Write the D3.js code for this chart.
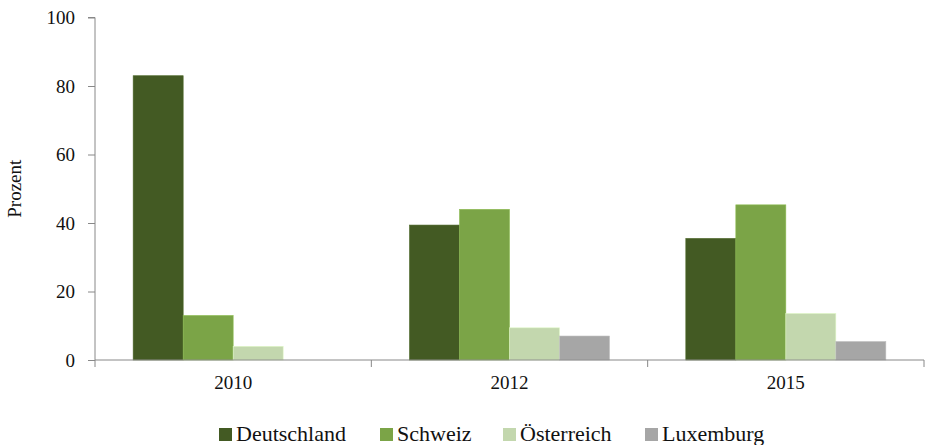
<!DOCTYPE html>
<html>
<head>
<meta charset="utf-8">
<script src="https://cdn.jsdelivr.net/npm/d3@7"></script>
<style>
  body { margin: 0; background: #fff; }
  text { font-family: "Liberation Serif", "DejaVu Serif", serif; fill: #111; }
</style>
</head>
<body>
<svg id="chart" width="925" height="445"></svg>
<script>
var years = ["2010", "2012", "2015"];
var countries = ["Deutschland", "Schweiz", "Österreich", "Luxemburg"];
var colors = ["#435a23", "#7ba447", "#c3d7ae", "#a6a6a6"];
// one array per country, values for 2010, 2012, 2015 (null = no bar)
var deutschland = [83, 39.4, 35.5];
var schweiz = [13, 44, 45.3];
var oesterreich = [4, 9.4, 13.6];
var luxemburg = [null, 7, 5.4];
var yTicks = [0, 20, 40, 60, 80, 100];

var series = [deutschland, schweiz, oesterreich, luxemburg];

var svg = d3.select("#chart");
var plotLeft = 95, plotRight = 924, plotTop = 17.5, plotBottom = 360;

var x0 = d3.scaleBand().domain(years).range([plotLeft, plotRight]).padding(0);
var x1 = d3.scaleBand().domain(countries).range([0, x0.bandwidth()])
  .paddingInner(0).paddingOuter(0.763);
var y = d3.scaleLinear().domain([0, 100]).range([plotBottom, plotTop]);

// bars
years.forEach(function(yr, i) {
  var g = svg.append("g").attr("transform", "translate(" + x0(yr) + ",0)");
  countries.forEach(function(c, j) {
    var v = series[j][i];
    if (v == null) return;
    g.append("rect")
      .attr("x", x1(c))
      .attr("y", y(v))
      .attr("width", x1.bandwidth())
      .attr("height", y(0) - y(v))
      .attr("fill", colors[j])
      .attr("stroke", d3.color(colors[j]).brighter(0.4))
      .attr("stroke-width", 0.6);
  });
});

// y axis
var yAxis = svg.append("g")
  .attr("transform", "translate(" + plotLeft + ",0)")
  .call(d3.axisLeft(y).tickValues(yTicks).tickSize(7).tickPadding(13));
yAxis.select(".domain").attr("stroke", "#888").attr("d", "M-7," + y(100) + "H0V" + y(0));
yAxis.selectAll(".tick line").attr("stroke", "#888");
yAxis.selectAll(".tick text").style("font-size", "19px").attr("fill", "#111");

// x axis
var xAxis = svg.append("g")
  .attr("transform", "translate(0," + plotBottom + ")")
  .call(d3.axisBottom(x0).tickSize(0).tickPadding(16));
xAxis.select(".domain").attr("stroke", "#888").attr("d", "M" + plotLeft + ",0H" + plotRight);
xAxis.selectAll(".tick text").style("font-size", "19px").attr("fill", "#111");
var edges = [plotLeft].concat(years.map(function(yr) { return x0(yr) + x0.bandwidth(); }));
xAxis.selectAll(".sep").data(edges).enter().append("line")
  .attr("x1", function(d) { return d; }).attr("x2", function(d) { return d; })
  .attr("y1", 0).attr("y2", 7).attr("stroke", "#888");

// y label
svg.append("text")
  .attr("transform", "translate(21," + ((plotTop + plotBottom) / 2) + ") rotate(-90)")
  .attr("text-anchor", "middle")
  .style("font-size", "19px")
  .text("Prozent");

// legend
var legendX = [219, 380, 503, 645];
var lg = svg.append("g");
countries.forEach(function(c, j) {
  lg.append("rect").attr("x", legendX[j]).attr("y", 428).attr("width", 13).attr("height", 13)
    .attr("fill", colors[j]);
  lg.append("text").attr("x", legendX[j] + 17).attr("y", 441)
    .style("font-size", "22px").text(c);
});
</script>
</body>
</html>
